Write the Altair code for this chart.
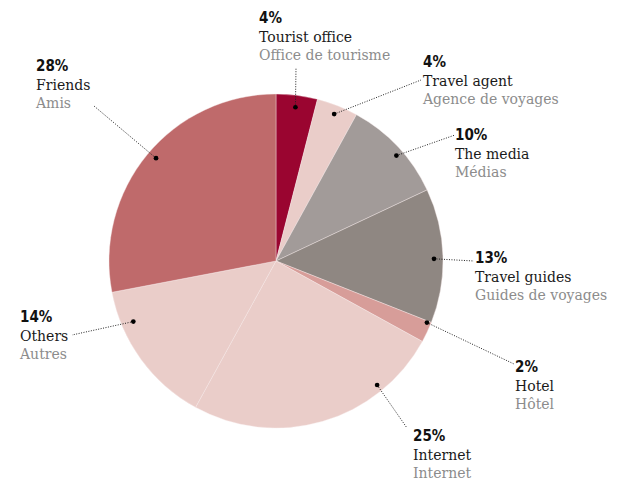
import math
import altair as alt
import pandas as pd

# ---- data ----
categories = ["Tourist office", "Travel agent", "The media", "Travel guides",
              "Hotel", "Internet", "Others", "Friends"]
french = ["Office de tourisme", "Agence de voyages", "Médias", "Guides de voyages",
          "Hôtel", "Internet", "Autres", "Amis"]
values = [4, 4, 10, 13, 2, 25, 14, 28]
colors = ["#9a0530", "#eacdc9", "#a29b99", "#8f8782",
          "#d79d99", "#eacdc9", "#eacdc9", "#bf6a6b"]

# ---- layout (page pixels) ----
W, H = 601, 472
M = 8
CX, CY, R = 276, 261, 167
dot_shift = [0, 0, 2, 1, -3, -23, 13, 1]        # degrees off the slice middle
dot_r = [155, 158, 160, 158, 163, 160, 155, 158]
label_xy = [(259, 23), (423, 67), (455, 140), (475, 263),
            (515, 372), (413, 441), (20, 322), (36, 71)]
leader_end = [(296, 68), (421, 80), (455, 135), (474, 261),
              (514, 364), (407, 428), (72, 335), (94, 106)]

total = sum(values)
rows, dots, lines, texts = [], [], [], []
cum = 0
for i, (c, f, v, col) in enumerate(zip(categories, french, values, colors)):
    rows.append({"cat": c, "value": v, "idx": i})
    mid = (cum + v / 2) / total * 360 + dot_shift[i]
    cum += v
    a = math.radians(mid)
    dx = CX + dot_r[i] * math.sin(a) - M
    dy = CY - dot_r[i] * math.cos(a) - M
    dots.append({"x": dx, "y": dy})
    ex, ey = leader_end[i]
    lines.append({"x": dx, "y": dy, "x2": ex - M, "y2": ey - M})
    lx, ly = label_xy[i]
    texts.append({"x": lx - M, "y": ly - M, "t": f"{v}%", "kind": "pct"})
    texts.append({"x": lx - M, "y": ly - M + 19, "t": c, "kind": "en"})
    texts.append({"x": lx - M, "y": ly - M + 37, "t": f, "kind": "fr"})

pie_df = pd.DataFrame(rows)
dots_df = pd.DataFrame(dots)
lines_df = pd.DataFrame(lines)
text_df = pd.DataFrame(texts)

xs = alt.Scale(domain=[0, W], nice=False, zero=False)
ys = alt.Scale(domain=[0, H], nice=False, zero=False, reverse=True)

pie = alt.Chart(pie_df).mark_arc(radius=R, stroke="#f7ecea", strokeWidth=0.4).encode(
    theta=alt.Theta("value:Q", stack=True),
    color=alt.Color("cat:N", scale=alt.Scale(domain=categories, range=colors), legend=None),
    order=alt.Order("idx:Q"),
    x=alt.value(CX - M),
    y=alt.value(CY - M),
)

leaders = alt.Chart(lines_df).mark_rule(color="#222222", strokeWidth=1, strokeDash=[1, 1.5]).encode(
    x=alt.X("x:Q", scale=xs, axis=None),
    y=alt.Y("y:Q", scale=ys, axis=None),
    x2="x2:Q",
    y2="y2:Q",
)

points = alt.Chart(dots_df).mark_circle(color="#000000", size=22, opacity=1).encode(
    x=alt.X("x:Q", scale=xs, axis=None),
    y=alt.Y("y:Q", scale=ys, axis=None),
)

def label_layer(kind, font, size, weight, color):
    return alt.Chart(text_df).transform_filter(alt.datum.kind == kind).mark_text(
        align="left", baseline="alphabetic", font=font, fontSize=size,
        fontWeight=weight, color=color,
    ).encode(
        x=alt.X("x:Q", scale=xs, axis=None),
        y=alt.Y("y:Q", scale=ys, axis=None),
        text="t:N",
    )

pct = label_layer("pct", "DejaVu Sans Condensed", 15, "bold", "#111111")
en = label_layer("en", "DejaVu Serif", 14, "normal", "#1a1a1a")
fr = label_layer("fr", "DejaVu Serif", 14, "normal", "#8c8c8c")

chart = alt.layer(pie, leaders, points, pct, en, fr).properties(
    width=W, height=H, padding=0, autosize=alt.AutoSizeParams(type="none"),
).configure_view(stroke=None)

chart.save("out.html", embed_options={"renderer": "svg", "actions": False})
